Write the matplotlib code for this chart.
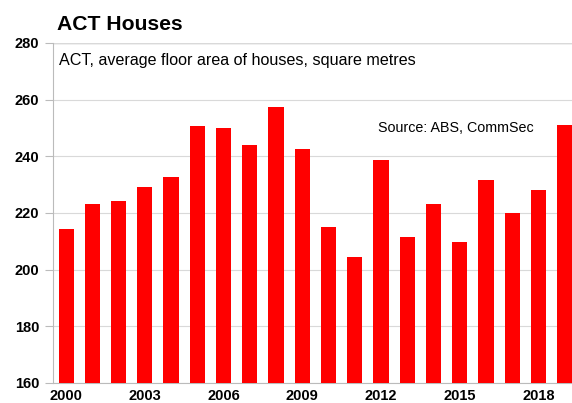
import numpy as np
import matplotlib
matplotlib.use("Agg")
import matplotlib.pyplot as plt

plt.rcParams['font.family'] = ['Liberation Sans', 'DejaVu Sans']

# Average floor area of new houses, ACT (square metres)
years = list(range(2000, 2020))
floor_area = [214.3, 223.2, 224.1, 229.0, 232.7, 250.8, 250.1, 244.0, 257.4, 242.7,
              215.0, 204.3, 238.7, 211.7, 223.1, 209.7, 231.5, 220.0, 228.0, 251.0]
x_tick_years = [2000, 2003, 2006, 2009, 2012, 2015, 2018]
y_ticks = [160, 180, 200, 220, 240, 260, 280]

fig = plt.figure(figsize=(5.72, 4.03), dpi=100)
ax = fig.add_axes([53 / 572, 1 - 383 / 403, 1 - 53 / 572, (383 - 43) / 403])

x = np.arange(len(years))
ax.bar(x, floor_area, width=0.58, color='#ff0000', zorder=3)

ax.set_ylim(160, 280)
ax.set_xlim(-0.5, len(years) - 0.72)
ax.set_yticks(y_ticks)
ax.set_yticklabels([str(v) for v in y_ticks], fontsize=10.5, fontweight='bold')
ax.set_xticks([years.index(y) for y in x_tick_years])
ax.set_xticklabels([str(y) for y in x_tick_years], fontsize=10.5, fontweight='bold')
ax.tick_params(axis='x', length=0, pad=4)
ax.tick_params(axis='y', length=6, width=0.8, color='#bbbbbb', pad=4)

ax.grid(axis='y', color='#d9d9d9', linewidth=0.8, zorder=0)
for side in ['top', 'right']:
    ax.spines[side].set_visible(False)
ax.spines['left'].set_color('#bbbbbb')
ax.spines['bottom'].set_color('#bbbbbb')
ax.axhline(280, color='#bbbbbb', linewidth=1.0, zorder=1)

fig.text(57 / 572, 1 - 24.5 / 403, 'ACT Houses', fontsize=15.2, fontweight='bold',
         ha='left', va='center')
ax.text(0.012, 0.95, 'ACT, average floor area of houses, square metres', transform=ax.transAxes,
        fontsize=11.6, ha='left', va='center')
ax.text(0.627, 0.75, 'Source: ABS, CommSec', transform=ax.transAxes,
        fontsize=10.3, ha='left', va='center')

fig.savefig('out.png', dpi=100)
